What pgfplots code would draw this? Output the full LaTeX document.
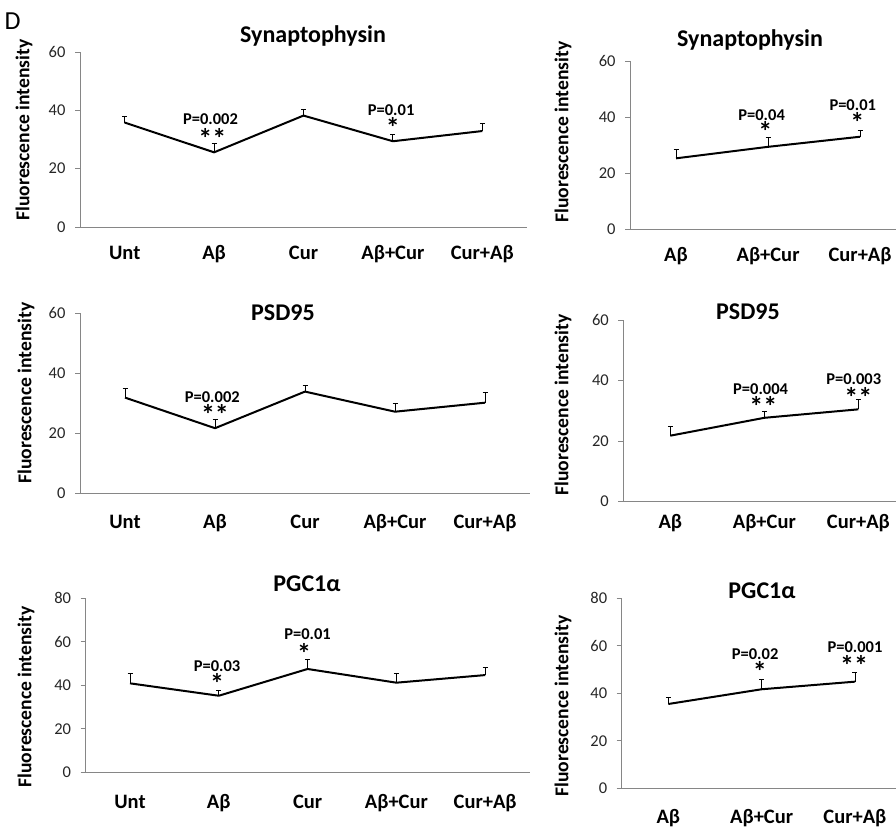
\documentclass[border=0pt]{standalone}
\usepackage{fontspec}
\setmainfont{Carlito}
\usepackage{pgfplots}
\usepackage{pgfplotstable}
\pgfplotsset{compat=1.18}

\definecolor{axisgray}{RGB}{134,134,134}
\definecolor{ticktext}{RGB}{38,38,38}
\newcommand{\fs}[1]{\fontsize{#1}{#1}\selectfont}

% x = category index, y = mean, e = upper error
\pgfplotstableread{
x y e
0 35.8 2.2
1 25.6 2.9
2 38.2 2.1
3 29.4 2.4
4 32.9 2.6
}\synfive
\pgfplotstableread{
x y e
0 25.3 3.2
1 29.4 3.3
2 33.0 2.1
}\synthree
\pgfplotstableread{
x y e
0 31.9 3.1
1 21.7 3.0
2 33.9 2.2
3 27.2 2.8
4 30.2 3.3
}\psdfive
\pgfplotstableread{
x y e
0 21.8 3.0
1 27.7 2.2
2 30.5 3.1
}\psdthree
\pgfplotstableread{
x y e
0 40.9 4.6
1 35.2 2.6
2 47.5 4.6
3 41.2 4.3
4 44.7 3.6
}\pgcfive
\pgfplotstableread{
x y e
0 35.5 2.8
1 41.7 4.3
2 44.9 3.8
}\pgcthree

\pgfplotsset{
  panel/.style={
    scale only axis,
    axis x line=bottom, axis y line=left,
    axis line style={draw=axisgray, line width=0.9pt, -},
    xmin=-0.5, ymin=0,
    xtick style={draw=none},
    ytick style={draw=axisgray, line width=0.9pt},
    tick align=outside, major tick length=5pt,
    yticklabel style={font=\fs{16.5}, text=ticktext, xshift=-6pt},
    xticklabel style={font=\bfseries\fs{20.5}, text height=0.75em, text depth=0.25em},
    /pgf/number format/assume math mode=true,
    clip=false,
    anchor=south west,
  },
  five/.style={panel, xmax=4.5, xtick={0,...,4},
    xticklabels={Unt,Aβ,Cur,Aβ+Cur,Cur+Aβ}},
  three/.style={panel, xtick={0,1,2},
    xticklabels={Aβ,Aβ+Cur,Cur+Aβ}},
  meanline/.style={black, line width=2pt, mark=none, line join=round,
    error bars/y dir=plus, error bars/y explicit,
    error bars/error bar style={black, line width=0.9pt},
    error bars/error mark options={black, rotate=90, mark size=2.5pt, line width=0.9pt}},
}
\tikzset{
  pval/.style={font=\bfseries\fs{16.5}, inner sep=0pt},
  star/.style={font=\bfseries\fs{28}, inner sep=0pt, yshift=-3pt},
}

\begin{document}
\begin{tikzpicture}[x=1pt,y=1pt]
\useasboundingbox (0,0) rectangle (896,829);

\node[font=\fs{26}, anchor=base] at (12.5,799) {D};

% ---- Synaptophysin ----
\begin{axis}[five, at={(80pt,602pt)}, width=447pt, height=175pt, ymax=60,
  ytick={0,20,40,60}, xticklabel style={yshift=-16pt}]
  \addplot[meanline] table[x=x, y=y, y error=e] {\synfive};
  \node[pval] at (axis cs:0.96,37.0) {P=0.002};
  \node[star] at (axis cs:0.98,31.5) {**};
  \node[pval] at (axis cs:2.98,40.1) {P=0.01};
  \node[star] at (axis cs:3,35) {*};
\end{axis}
\begin{axis}[three, at={(630pt,599.7pt)}, width=266pt, height=168.3pt, xmax=2.39, ymax=60,
  ytick={0,20,40,60}, xticklabel style={yshift=-16.4pt}]
  \addplot[meanline] table[x=x, y=y, y error=e] {\synthree};
  \node[pval] at (axis cs:0.93,40.7) {P=0.04};
  \node[star] at (axis cs:0.97,36) {*};
  \node[pval] at (axis cs:1.92,44.3) {P=0.01};
  \node[star] at (axis cs:1.97,39) {*};
\end{axis}

% ---- PSD95 ----
\begin{axis}[five, at={(80pt,335.7pt)}, width=450pt, height=180pt, ymax=60,
  ytick={0,20,40,60}, xticklabel style={yshift=-18.7pt}]
  \addplot[meanline] table[x=x, y=y, y error=e] {\psdfive};
  \node[pval] at (axis cs:0.97,32.2) {P=0.002};
  \node[star] at (axis cs:1,27.2) {**};
\end{axis}
\begin{axis}[three, at={(623.3pt,327.3pt)}, width=272.7pt, height=181.7pt, xmax=2.40, ymax=60,
  ytick={0,20,40,60}, xticklabel style={yshift=-10.3pt}]
  \addplot[meanline] table[x=x, y=y, y error=e] {\psdthree};
  \node[pval] at (axis cs:0.96,37.1) {P=0.004};
  \node[star] at (axis cs:0.99,32.5) {**};
  \node[pval] at (axis cs:1.95,40.4) {P=0.003};
  \node[star] at (axis cs:2,35.5) {**};
\end{axis}

% ---- PGC1alpha ----
\begin{axis}[five, at={(85.6pt,56.7pt)}, width=444pt, height=174pt, ymax=80,
  ytick={0,20,40,60,80}, xticklabel style={yshift=-19.7pt}]
  \addplot[meanline] table[x=x, y=y, y error=e] {\pgcfive};
  \node[pval] at (axis cs:0.98,48.6) {P=0.03};
  \node[star] at (axis cs:0.98,42.1) {*};
  \node[pval] at (axis cs:2,63.6) {P=0.01};
  \node[star] at (axis cs:1.96,56.2) {*};
\end{axis}
\begin{axis}[three, at={(621.7pt,40.7pt)}, width=274.3pt, height=190pt, xmax=2.44, ymax=80,
  ytick={0,20,40,60,80}, xticklabel style={yshift=-18.7pt}]
  \addplot[meanline] table[x=x, y=y, y error=e] {\pgcthree};
  \node[pval] at (axis cs:0.93,56.5) {P=0.02};
  \node[star] at (axis cs:0.98,50.5) {*};
  \node[pval] at (axis cs:2,59.4) {P=0.001};
  \node[star] at (axis cs:1.99,53) {**};
\end{axis}

% titles
\begin{scope}[every node/.style={font=\bfseries\fs{24}, anchor=base}]
  \node at (313,786) {Synaptophysin};
  \node at (750,782.3) {Synaptophysin};
  \node at (283,508.3) {PSD95};
  \node at (748,509) {PSD95};
  \node at (307,237.3) {PGC1α};
  \node at (762,230.7) {PGC1α};
\end{scope}

% y labels
\begin{scope}[every node/.style={font=\bfseries\fs{19.6}, rotate=90}]
  \node at (24,699) {Fluorescence intensity};
  \node at (563,697) {Fluorescence intensity};
  \node at (26,436) {Fluorescence intensity};
  \node at (563,424) {Fluorescence intensity};
  \node at (26,132) {Fluorescence intensity};
  \node at (563,123) {Fluorescence intensity};
\end{scope}
\end{tikzpicture}
\end{document}
